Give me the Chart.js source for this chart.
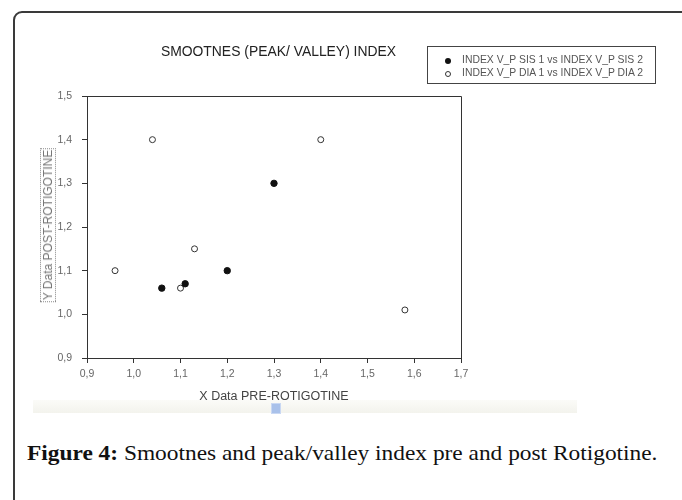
<!DOCTYPE html>
<html>
<head>
<meta charset="utf-8">
<script src="https://cdn.jsdelivr.net/npm/chart.js@4.4.0/dist/chart.umd.min.js"></script>
<style>
  html, body { margin: 0; padding: 0; background: #fff; }
  #page { position: relative; width: 682px; height: 500px; overflow: hidden; }
  #frame { position: absolute; left: 13px; top: 11px; width: 720px; height: 540px;
           border: 2px solid #3a3a3a; border-radius: 9px; box-sizing: border-box; }
  #chartCanvas { position: absolute; left: 0; top: 0; }
  .txt { position: absolute; white-space: nowrap; font-family: "Liberation Sans", Arial, sans-serif; }
  #title { left: 0; width: 557px; text-align: center; top: 43px; font-size: 13.9px; color: #222; }
  #legend { position: absolute; left: 427px; top: 46px; width: 229px; height: 38px;
            border: 1px solid #444; box-sizing: border-box; }
  .row { position: absolute; left: 0; font-family: "Liberation Sans", Arial, sans-serif;
         font-size: 10.4px; color: #555; white-space: nowrap; }
  .row span.t { position: absolute; left: 34px; top: 0; }
  .dot { position: absolute; left: 17px; top: 4px; width: 6px; height: 6px; border-radius: 50%; box-sizing: border-box; }
  .dot.fill { background: #111; }
  .dot.open { background: #fff; border: 1px solid #333; }
  #ylabel { left: 48px; top: 225px; transform: translate(-50%, -50%) rotate(-90deg);
            font-size: 12px; color: #777; border: 1px dotted #888; padding: 0 1px; line-height: 14px; }
  #xlabel { left: 274px; top: 396px; transform: translate(-50%, -50%); font-size: 12.5px; color: #444; }
  #band { position: absolute; left: 33px; top: 400px; width: 544px; height: 13px;
          background: linear-gradient(#fbfbf8, #f3f3ed); }
  #icon { position: absolute; left: 271px; top: 403px; width: 8px; height: 9px; background: #a9c1ea; border: 1px solid #c9d8f3; }
  #caption { left: 27px; top: 441px; font-family: "Liberation Serif", "DejaVu Serif", serif; font-size: 21px; color: #111;
             transform-origin: 0 50%; }
  #caption b { font-weight: bold; }
</style>
</head>
<body>
<div id="page">
  <div id="frame"></div>
  <div id="band"></div>
  <div id="icon"></div>
  <canvas id="chartCanvas" width="682" height="420"></canvas>
  <div id="title" class="txt">SMOOTNES (PEAK/ VALLEY) INDEX</div>
  <div id="legend">
    <div class="row" style="top:7px"><div class="dot fill"></div><span class="t" id="lab1"></span></div>
    <div class="row" style="top:20px"><div class="dot open"></div><span class="t" id="lab2"></span></div>
  </div>
  <div id="ylabel" class="txt">Y Data POST-ROTIGOTINE</div>
  <div id="xlabel" class="txt">X Data PRE-ROTIGOTINE</div>
  <div id="caption" class="txt"><b>Figure 4:</b> Smootnes and peak/valley index pre and post Rotigotine.</div>
</div>
<script>
// series labels
const seriesNames = ['INDEX V_P SIS 1 vs INDEX V_P SIS 2', 'INDEX V_P DIA 1 vs INDEX V_P DIA 2'];

// SIS points (filled)
const sisX = [1.06, 1.11, 1.20, 1.30];
const sisY = [1.06, 1.07, 1.10, 1.30];

// DIA points (open)
const diaX = [0.96, 1.04, 1.10, 1.13, 1.40, 1.58];
const diaY = [1.10, 1.40, 1.06, 1.15, 1.40, 1.01];

// axis ranges / tick step
const xRange = [0.9, 1.7];
const yRange = [0.9, 1.5];
const tickStep = 0.1;

document.getElementById('lab1').textContent = seriesNames[0];
document.getElementById('lab2').textContent = seriesNames[1];

// stretch the caption to the width it has in the figure
const cap = document.getElementById('caption');
cap.style.transform = 'scaleX(' + (631 / cap.offsetWidth) + ')';

function toPoints(xs, ys) {
    return xs.map((x, i) => ({ x: x, y: ys[i] }));
}

function commaTick(value) {
    return value.toFixed(1).replace('.', ',');
}

// top + right edge of the plot box
const boxPlugin = {
    id: 'boxPlugin',
    afterDraw(chart) {
        const a = chart.chartArea;
        const c = chart.ctx;
        c.save();
        c.strokeStyle = '#333';
        c.lineWidth = 1;
        c.beginPath();
        c.moveTo(Math.round(a.left) + 0.5, Math.round(a.top) + 0.5);
        c.lineTo(Math.round(a.right) + 0.5, Math.round(a.top) + 0.5);
        c.lineTo(Math.round(a.right) + 0.5, Math.round(a.bottom) + 0.5);
        c.stroke();
        c.restore();
    }
};

const tickFont = { family: '"Liberation Sans Narrow", "Liberation Sans", Arial', size: 10.5 };

const ctx = document.getElementById('chartCanvas').getContext('2d');
const scatterChart = new Chart(ctx, {
    type: 'scatter',
    data: {
        datasets: [
            {
                label: seriesNames[0],
                data: toPoints(sisX, sisY),
                backgroundColor: '#111',
                borderColor: '#111',
                borderWidth: 1,
                pointRadius: 3.2,
            },
            {
                label: seriesNames[1],
                data: toPoints(diaX, diaY),
                backgroundColor: '#fff',
                borderColor: '#333',
                borderWidth: 1,
                pointRadius: 3,
            }
        ]
    },
    options: {
        responsive: false,
        animation: false,
        layout: {
            padding: { left: 0, top: 96, right: 221, bottom: 0 }
        },
        scales: {
            x: {
                type: 'linear',
                min: xRange[0],
                max: xRange[1],
                afterFit: function(scale) { scale.height = 62; },
                ticks: {
                    stepSize: tickStep,
                    color: '#666',
                    font: tickFont,
                    padding: 5,
                    maxRotation: 0,
                    callback: commaTick
                },
                grid: { drawOnChartArea: false, drawTicks: true, tickLength: 5, color: '#333' },
                border: { display: true, color: '#333', width: 1 }
            },
            y: {
                type: 'linear',
                min: yRange[0],
                max: yRange[1],
                afterFit: function(scale) { scale.width = 87; },
                ticks: {
                    stepSize: tickStep,
                    color: '#666',
                    font: tickFont,
                    padding: 10,
                    callback: commaTick
                },
                grid: { drawOnChartArea: false, drawTicks: true, tickLength: 5, color: '#333' },
                border: { display: true, color: '#333', width: 1 }
            }
        },
        plugins: {
            legend: { display: false },
            tooltip: { enabled: false }
        }
    },
    plugins: [boxPlugin]
});
</script>
</body>
</html>
